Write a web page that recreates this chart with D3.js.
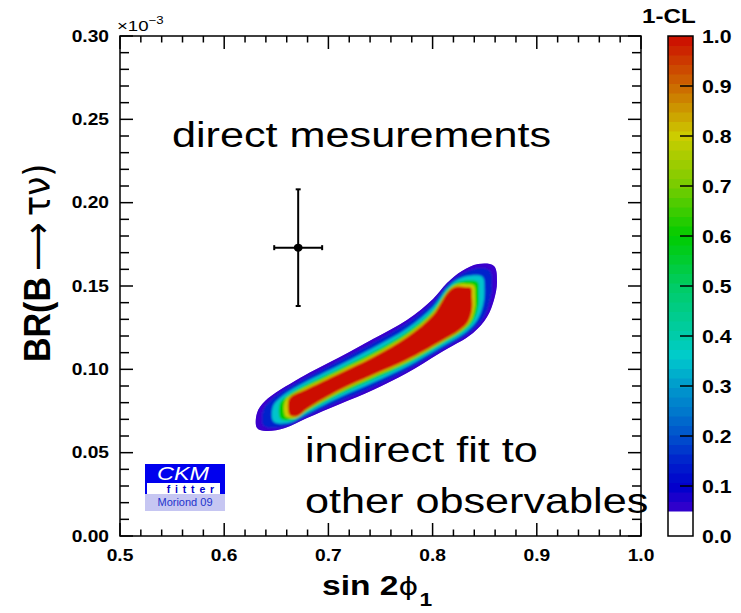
<!DOCTYPE html>
<html><head><meta charset="utf-8">
<script src="https://cdn.jsdelivr.net/npm/d3@7"></script>
<style>body{margin:0;background:#fff}svg{display:block}</style>
</head><body>
<script>
// ---------------- data ----------------
const xTickValues = [0.5, 0.6, 0.7, 0.8, 0.9, 1.0];
const xTickLabels = ["0.5", "0.6", "0.7", "0.8", "0.9", "1.0"];
const yTickValues = [0.00, 0.05, 0.10, 0.15, 0.20, 0.25, 0.30];
const yTickLabels = ["0.00", "0.05", "0.10", "0.15", "0.20", "0.25", "0.30"];
const clTickValues = [0.0, 0.1, 0.2, 0.3, 0.4, 0.5, 0.6, 0.7, 0.8, 0.9, 1.0];
const clTickLabels = ["0.0", "0.1", "0.2", "0.3", "0.4", "0.5", "0.6", "0.7", "0.8", "0.9", "1.0"];

// direct measurement (sin2phi1, BR in units of 1e-3)
const measX = [0.671];
const measXErr = [0.023];
const measY = [0.173];
const measYErr = [0.035];

// 1-CL contours of the indirect fit (sin2phi1, BR x1e-3)
const contourLevels = [0.05, 0.15, 0.35, 0.60, 0.80, 1.00];
const contour005 = [[0.6315,0.0648],[0.6315,0.0738],[0.6392,0.0810],[0.6727,0.0948],[0.7111,0.1074],[0.7428,0.1182],[0.7754,0.1296],[0.8004,0.1422],[0.8138,0.1518],[0.8282,0.1590],[0.8436,0.1632],[0.8589,0.1620],[0.8618,0.1524],[0.8589,0.1416],[0.8522,0.1314],[0.8388,0.1218],[0.8071,0.1098],[0.7754,0.0978],[0.7428,0.0876],[0.7111,0.0792],[0.6795,0.0708],[0.6583,0.0648],[0.6401,0.0630]];
const contour015 = [[0.6376,0.0665],[0.6376,0.0755],[0.6453,0.0820],[0.6727,0.0931],[0.7111,0.1055],[0.7428,0.1160],[0.7754,0.1276],[0.8004,0.1403],[0.8140,0.1507],[0.8269,0.1571],[0.8411,0.1604],[0.8545,0.1594],[0.8570,0.1506],[0.8547,0.1404],[0.8486,0.1308],[0.8363,0.1222],[0.8071,0.1111],[0.7754,0.0994],[0.7428,0.0894],[0.7111,0.0809],[0.6795,0.0719],[0.6608,0.0662],[0.6449,0.0648]];
const contour035 = [[0.6469,0.0690],[0.6469,0.0780],[0.6546,0.0834],[0.6727,0.0906],[0.7111,0.1026],[0.7428,0.1128],[0.7754,0.1245],[0.8004,0.1374],[0.8143,0.1491],[0.8249,0.1542],[0.8374,0.1563],[0.8479,0.1554],[0.8498,0.1479],[0.8484,0.1386],[0.8431,0.1299],[0.8326,0.1227],[0.8071,0.1131],[0.7754,0.1017],[0.7428,0.0921],[0.7111,0.0834],[0.6795,0.0735],[0.6646,0.0684],[0.6521,0.0675]];
const contour060 = [[0.6536,0.0708],[0.6536,0.0798],[0.6613,0.0845],[0.6727,0.0888],[0.7111,0.1005],[0.7428,0.1104],[0.7754,0.1223],[0.8004,0.1353],[0.8145,0.1479],[0.8234,0.1521],[0.8346,0.1533],[0.8431,0.1525],[0.8445,0.1459],[0.8437,0.1373],[0.8391,0.1292],[0.8298,0.1231],[0.8071,0.1146],[0.7754,0.1034],[0.7428,0.0941],[0.7111,0.0852],[0.6795,0.0747],[0.6673,0.0700],[0.6574,0.0695]];
const contour080 = [[0.6585,0.0722],[0.6585,0.0812],[0.6662,0.0852],[0.6727,0.0874],[0.7111,0.0990],[0.7428,0.1087],[0.7754,0.1206],[0.8004,0.1338],[0.8147,0.1470],[0.8223,0.1506],[0.8326,0.1511],[0.8395,0.1504],[0.8407,0.1445],[0.8403,0.1363],[0.8362,0.1288],[0.8278,0.1234],[0.8071,0.1156],[0.7754,0.1045],[0.7428,0.0955],[0.7111,0.0865],[0.6795,0.0756],[0.6693,0.0711],[0.6612,0.0711]];
const contour100 = [[0.6622,0.0732],[0.6622,0.0822],[0.6699,0.0858],[0.6727,0.0864],[0.7111,0.0978],[0.7428,0.1074],[0.7754,0.1194],[0.8004,0.1326],[0.8148,0.1464],[0.8215,0.1494],[0.8311,0.1494],[0.8369,0.1488],[0.8378,0.1434],[0.8378,0.1356],[0.8340,0.1284],[0.8263,0.1236],[0.8071,0.1164],[0.7754,0.1056],[0.7428,0.0966],[0.7111,0.0876],[0.6795,0.0762],[0.6708,0.0720],[0.6641,0.0720]];
const contours = [contour005, contour015, contour035, contour060, contour080, contour100];

// palette of the 1-CL colour scale
const paletteStops = [0.05, 0.10, 0.15, 0.20, 0.25, 0.30, 0.36, 0.40, 0.50, 0.60, 0.70, 0.80, 0.90, 1.00];
const paletteColors = ["#3a00cc", "#0000cc", "#0022cc", "#0050cc", "#0078cc", "#0099cc", "#00cccc", "#00ccaa", "#00cc66", "#00cc00", "#77cc00", "#cccc00", "#cc6a00", "#cc0a00"];

// ---------------- layout ----------------
const W = 741, H = 613;
const L = 120, R = 641, T = 36, B = 536;
const SX = 1.2; // horizontal text stretch of the original rendering
const FONT = "'Liberation Sans', Arial, Helvetica, sans-serif";

const svg = d3.select("body").append("svg").attr("width", W).attr("height", H)
  .style("font-family", FONT);

const x = d3.scaleLinear().domain([0.5, 1.0]).range([L, R]);
const y = d3.scaleLinear().domain([0.0, 0.30]).range([B, T]);
const color = d3.scaleLinear().domain(paletteStops).range(paletteColors).clamp(true);

function txt(g, px, py, str, size, opts = {}) {
  const t = g.append("text")
    .attr("transform", `translate(${px},${py}) scale(${opts.sx || SX},1)`)
    .attr("font-size", size)
    .attr("font-weight", opts.weight || "bold")
    .attr("text-anchor", opts.anchor || "start")
    .attr("fill", opts.fill || "#000");
  if (opts.dy) t.attr("dy", opts.dy);
  if (opts.style) t.attr("font-style", opts.style);
  if (str !== null) t.text(str);
  return t;
}

// ---------------- contours ----------------
const defs = svg.append("defs");
const line = d3.line().x(d => x(d[0])).y(d => y(d[1])).curve(d3.curveCatmullRomClosed.alpha(0.5));
defs.append("clipPath").attr("id", "outerClip").append("path").attr("d", line(contour005));
const blur = defs.append("filter").attr("id", "soft")
  .attr("x", "-20%").attr("y", "-20%").attr("width", "140%").attr("height", "140%");
blur.append("feGaussianBlur").attr("stdDeviation", 1.1);

const cg = svg.append("g");
cg.append("path").attr("d", line(contour005)).attr("fill", color(contourLevels[0]));
const inner = cg.append("g").attr("clip-path", "url(#outerClip)").append("g").attr("filter", "url(#soft)");
contours.forEach((c, i) => {
  inner.append("path").attr("d", line(c)).attr("fill", color(contourLevels[i]));
});

// ---------------- measurement ----------------
const mg = svg.append("g").attr("stroke", "#000").attr("stroke-width", 2);
measX.forEach((mx, i) => {
  const cx = x(mx), cy = y(measY[i]);
  const x0 = x(mx - measXErr[i]), x1 = x(mx + measXErr[i]);
  const y0 = y(measY[i] - measYErr[i]), y1 = y(measY[i] + measYErr[i]);
  mg.append("line").attr("x1", x0).attr("x2", x1).attr("y1", cy).attr("y2", cy);
  mg.append("line").attr("x1", cx).attr("x2", cx).attr("y1", y0).attr("y2", y1);
  mg.append("line").attr("x1", x0).attr("x2", x0).attr("y1", cy - 2.5).attr("y2", cy + 2.5);
  mg.append("line").attr("x1", x1).attr("x2", x1).attr("y1", cy - 2.5).attr("y2", cy + 2.5);
  mg.append("line").attr("x1", cx - 2.5).attr("x2", cx + 2.5).attr("y1", y0).attr("y2", y0);
  mg.append("line").attr("x1", cx - 2.5).attr("x2", cx + 2.5).attr("y1", y1).attr("y2", y1);
  svg.append("ellipse").attr("cx", cx).attr("cy", cy).attr("rx", 4.4).attr("ry", 4).attr("fill", "#000");
});

// ---------------- frame & ticks ----------------
const ag = svg.append("g").attr("stroke", "#000").attr("stroke-width", 1.5);
const xMinor = d3.range(0.5, 1.0001, 0.02);
const yMinor = d3.range(0.0, 0.3001, 0.01);
xMinor.forEach(v => {
  const major = xTickValues.some(t => Math.abs(t - v) < 1e-6);
  const len = major ? 13 : 6.5;
  ag.append("line").attr("x1", x(v)).attr("x2", x(v)).attr("y1", B).attr("y2", B - len);
  ag.append("line").attr("x1", x(v)).attr("x2", x(v)).attr("y1", T).attr("y2", T + len);
});
yMinor.forEach(v => {
  const major = yTickValues.some(t => Math.abs(t - v) < 1e-6);
  const len = major ? 13 : 9;
  ag.append("line").attr("x1", L).attr("x2", L + len).attr("y1", y(v)).attr("y2", y(v));
  ag.append("line").attr("x1", R).attr("x2", R - len).attr("y1", y(v)).attr("y2", y(v));
});
ag.append("rect").attr("x", L).attr("y", T).attr("width", R - L).attr("height", B - T).attr("fill", "none");

const lg = svg.append("g");
xTickValues.forEach((v, i) => txt(lg, x(v), 561, xTickLabels[i], 16, { anchor: "middle" }));
yTickValues.forEach((v, i) => txt(lg, 109, y(v), yTickLabels[i], 16, { anchor: "end", dy: "0.36em" }));

// exponent
const ex = txt(lg, 117, 31, null, 15.5, { weight: "normal" });
ex.append("tspan").text("×10");
ex.append("tspan").attr("font-size", 11).attr("dy", -7).text("−3");

// axis titles
const xt = txt(lg, 322, 595, null, 28);
xt.append("tspan").text("sin 2");
xt.append("tspan").attr("font-weight", "normal").attr("font-family", "'DejaVu Sans'").attr("font-size", 25).text("ϕ");
xt.append("tspan").attr("font-size", 19).attr("dy", 11).attr("dx", 1).text("1");

const yt = lg.append("text").attr("transform", `translate(50,362) rotate(-90) scale(1,1.1)`)
  .attr("font-size", 34).attr("font-weight", "bold");
yt.append("tspan").text("BR(B");
yt.append("tspan").attr("font-weight", "normal").attr("font-family", "'DejaVu Sans'").attr("dx", 6).text("⟶");
yt.append("tspan").attr("font-weight", "normal").attr("font-family", "'DejaVu Sans'").attr("dx", 6).text("τν)");

// annotations
txt(lg, 172, 147, "direct mesurements", 36, { weight: "normal" });
txt(lg, 305, 462, "indirect fit to", 36, { weight: "normal" });
txt(lg, 305, 513, "other observables", 36, { weight: "normal" });

// ---------------- color bar ----------------
const cbX = 668, cbW = 25;
const cy = d3.scaleLinear().domain([0, 1]).range([B, T]);
const cbg = svg.append("g");
const nb = 50, step = (1 - 0.05) / nb;
for (let k = 0; k < nb; k++) {
  const v0 = 0.05 + k * step, v1 = v0 + step;
  cbg.append("rect").attr("x", cbX).attr("width", cbW)
    .attr("y", cy(v1)).attr("height", cy(v0) - cy(v1) + 0.5)
    .attr("fill", color((v0 + v1) / 2));
}
cbg.append("rect").attr("x", cbX).attr("y", T).attr("width", cbW).attr("height", B - T)
  .attr("fill", "none").attr("stroke", "#000").attr("stroke-width", 1.5);
clTickValues.forEach((v, i) => {
  if (v > 0 && v < 1) cbg.append("line").attr("x1", cbX + cbW).attr("x2", cbX + cbW - 13)
    .attr("y1", cy(v)).attr("y2", cy(v)).attr("stroke", "#000").attr("stroke-width", 1.5);
  txt(cbg, 702, cy(v), clTickLabels[i], 19, { dy: "0.36em", sx: 1.12 });
});
txt(cbg, 642, 23, "1-CL", 21, { sx: 1.15 });

// ---------------- CKMfitter logo ----------------
const lgo = svg.append("g");
lgo.append("rect").attr("x", 145).attr("y", 464).attr("width", 80).attr("height", 30).attr("fill", "#0000ee");
lgo.append("rect").attr("x", 147).attr("y", 483).attr("width", 73).attr("height", 11).attr("fill", "#fff");
lgo.append("rect").attr("x", 145).attr("y", 494).attr("width", 80).attr("height", 17).attr("fill", "#c6c6f2");
txt(lgo, 157, 479.5, "CKM", 18, { weight: "normal", style: "italic", fill: "#fff", sx: 1.3 });
txt(lgo, 219, 493, "fitter", 10, { weight: "bold", fill: "#0000cc", anchor: "end", sx: 1.05 }).attr("letter-spacing", 4.6);
txt(lgo, 185, 506, "Moriond 09", 10.5, { weight: "normal", fill: "#2233cc", anchor: "middle", sx: 1.05 });
</script>
</body></html>
